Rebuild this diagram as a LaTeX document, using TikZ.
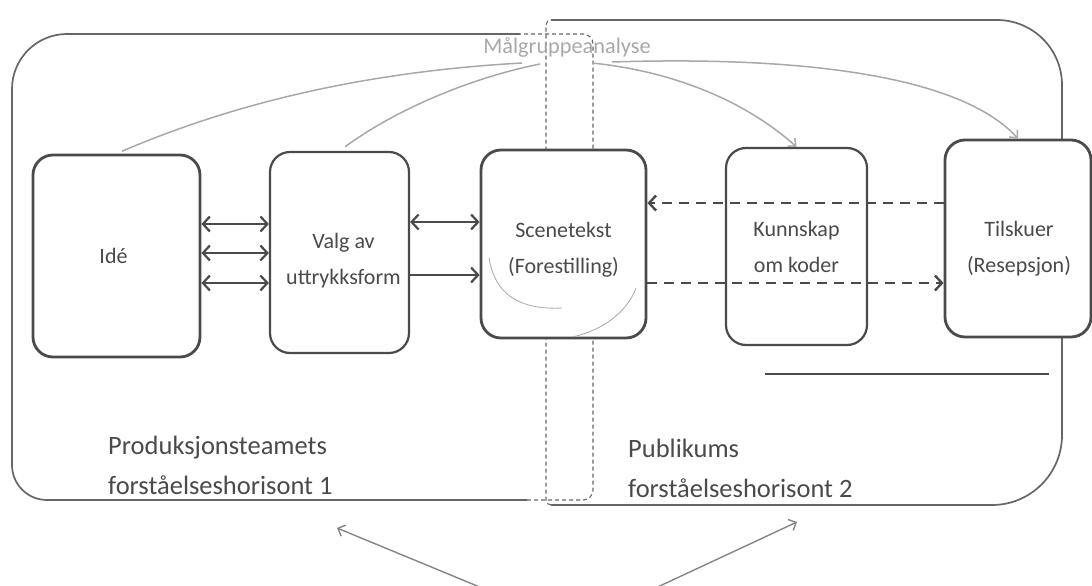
\documentclass[tikz,border=0pt]{standalone}
\usepackage{fontspec}
\setmainfont{Carlito}
\usetikzlibrary{arrows.meta,calc}
\definecolor{ink}{HTML}{4A4A4A}
\definecolor{hzc}{HTML}{666666}
\definecolor{light}{HTML}{A8A8A8}
\begin{document}
\begin{tikzpicture}[x=1pt,y=-1pt,
  box/.style={draw=ink, line width=2.4pt, rounded corners=20pt, fill=white, inner sep=0pt},
  txt/.style={align=center, font=\fontsize{22}{36}\selectfont, text=ink, inner sep=0pt},
  hz/.style={draw=hzc, line width=1.7pt},
  hzd/.style={draw=hzc, line width=1.1pt, dash pattern=on 4pt off 3pt},
  sarr/.style={draw=ink, line width=2.2pt, -{Straight Barb[length=7pt,width=15pt]}},
  darr/.style={draw=ink, line width=2.2pt, {Straight Barb[length=7pt,width=15pt]}-{Straight Barb[length=7pt,width=15pt]}},
  dsh/.style={draw=ink, line width=2.4pt, dash pattern=on 10pt off 7pt, -{Straight Barb[length=7pt,width=15pt]}},
  garr/.style={draw=light, line width=1.5pt},
  lbl/.style={text=ink, align=left, font=\fontsize{26.5}{40}\selectfont, inner sep=0pt, anchor=west}
]
\useasboundingbox (0,0) rectangle (1092,586);
\clip (0,0) rectangle (1092,586);

% horizons
\draw[hz] (520,34) [rounded corners=55pt] -- (12,34) [rounded corners=35pt] -- (12,500) [sharp corners] -- (527,500);
\draw[hzd] (527,500) [rounded corners=10pt] -- (593,500) -- (593,34) [sharp corners] -- (520,34);
\draw[hz] (551,20) [rounded corners=65pt] -- (1062,20) [rounded corners=70pt] -- (1062,505) [sharp corners] -- (551,505);
\draw[hzd] (551,505) [rounded corners=5pt] -- (546,505) -- (546,20) -- (551,20);

% Maalgruppeanalyse
\node[text=light, font=\fontsize{22.3}{26}\selectfont, inner sep=0pt] (malg) at (567,48) {Målgruppeanalyse};
\coordinate (m1) at (522,63);
\coordinate (m2) at (540,64);
\coordinate (m3) at (592,63);
\coordinate (m4) at (612,62);

% boxes
\node[box, line width=2.8pt, minimum width=167pt, minimum height=202pt] (ide) at (116.5,256) {};
\node[box, line width=2.2pt, minimum width=139pt, minimum height=201pt] (valg) at (339.5,252.5) {};
\node[box, line width=2.8pt, minimum width=165pt, minimum height=188pt] (scene) at (563.5,244) {};
\node[box, line width=2.2pt, minimum width=141pt, minimum height=197pt] (kunn) at (796.5,246.5) {};
\node[box, line width=2.8pt, minimum width=146pt, minimum height=197pt] (tilsk) at (1018,238.5) {};

% box texts
\node[txt] (idet) at ($(ide.center)+(-3,0)$) {Idé};
\node[txt] (valgt) at ($(valg.center)+(4,8)$) {Valg av\\uttrykksform};
\node[txt] (scenet) at ($(scene.center)+(0,6)$) {Scenetekst\\(Forestilling)};
\node[txt] (kunnt) at ($(kunn.center)+(0,0)$) {Kunnskap\\om koder};
\node[txt] (tilskt) at ($(tilsk.center)+(1,10)$) {Tilskuer\\(Resepsjon)};

% light curves from Maalgruppeanalyse
\draw[garr, shorten >=6pt] (m1) .. controls (360,72) and (230,105) .. (ide.north);
\draw[garr, shorten >=7pt] (m2) .. controls (470,78) and (395,110) .. (valg.north);
\draw[garr, -{Straight Barb[length=6pt,width=11pt]}] (m3) .. controls (680,72) and (750,105) .. (kunn.north);
\draw[garr, -{Straight Barb[length=6pt,width=11pt]}] (m4) .. controls (800,56) and (960,75) .. (tilsk.north);

% scribble around (Forestilling)
\draw[light, line width=0.8pt] (489,258) .. controls (495,295) and (520,310) .. (562,308);
\draw[light, line width=0.8pt] (572,337) .. controls (605,330) and (628,310) .. (636,288);

% solid arrows
\draw[darr] (ide.east |- 0,224) -- (valg.west |- 0,224);
\draw[darr] (ide.east |- 0,253) -- (valg.west |- 0,253);
\draw[darr] (ide.east |- 0,283) -- (valg.west |- 0,283);
\draw[darr] (valg.east |- 0,222) -- (scene.west |- 0,222);
\draw[sarr] (valg.east |- 0,275) -- (scene.west |- 0,275);

% dashed arrows
\draw[dsh] (tilsk.west |- 0,203) -- (scene.east |- 0,203);
\draw[dsh] (scene.east |- 0,283) -- (tilsk.west |- 0,283);

% line below Kunnskap
\coordinate (u1) at (765,374);
\coordinate (u2) at (1049,374);
\draw[ink, line width=1.8pt] (u1) -- (u2);

% labels
\node[lbl] (prod) at (108,465) {Produksjonsteamets\\forståelseshorisont 1};
\node[lbl] (publ) at (628,468) {Publikums\\forståelseshorisont 2};

% bottom V arrow
\coordinate (h1) at (337,528);
\coordinate (h2) at (797,522);
\coordinate (hv) at (574,626);
\draw[hzc!80, line width=1.4pt, {Straight Barb[length=6pt,width=12pt]}-{Straight Barb[length=6pt,width=12pt]}] (h1) -- (hv) -- (h2);
\end{tikzpicture}
\end{document}
